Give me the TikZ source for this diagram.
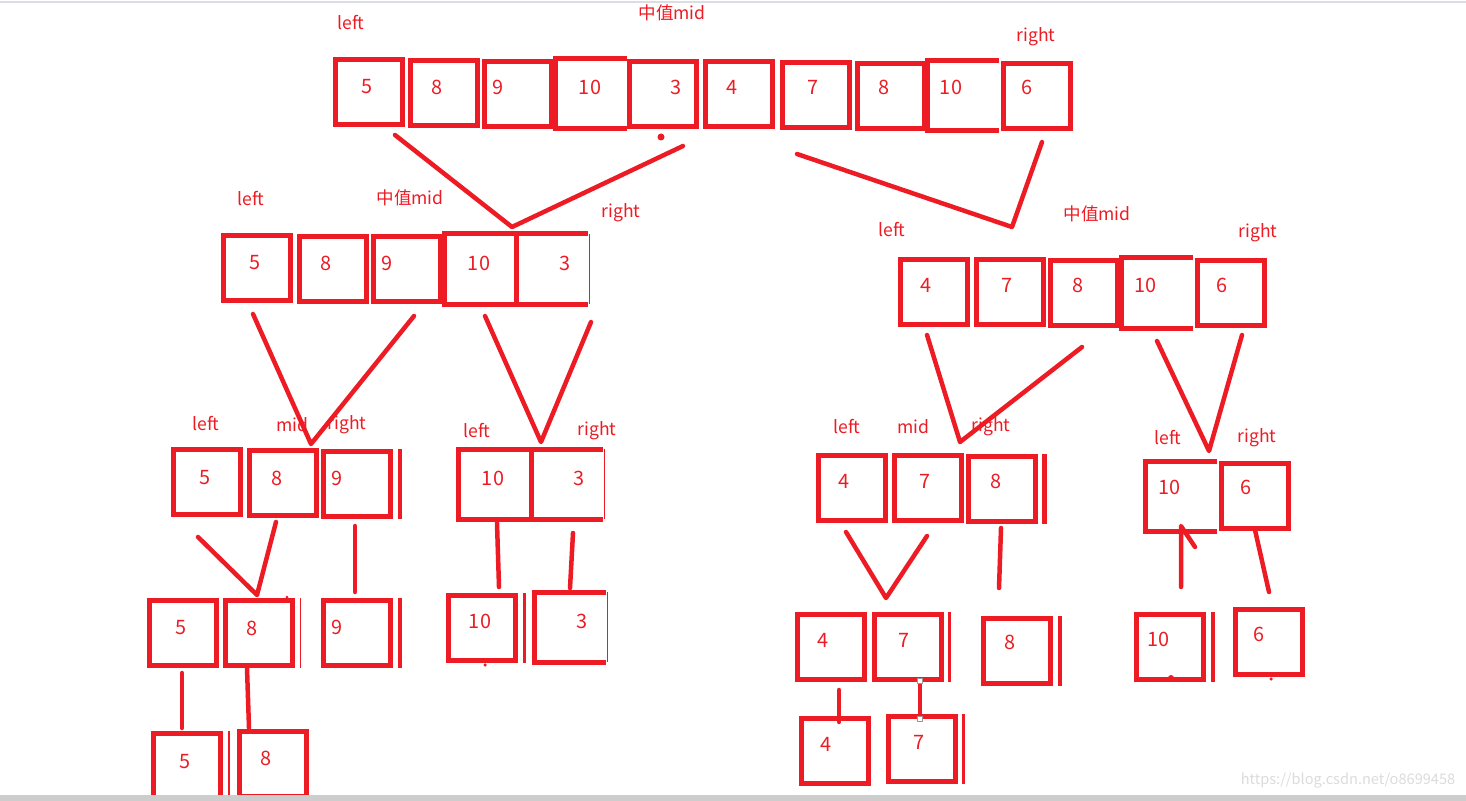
\documentclass[tikz,border=0pt]{standalone}
\usepackage{fontspec}
\setmainfont{Noto Sans CJK SC}
\definecolor{hongse}{HTML}{ED1C24}
\definecolor{huise}{HTML}{CDCDCD}
\definecolor{dingxian}{HTML}{DADDE2}
\begin{document}
\begin{tikzpicture}[x=0.2mm, y=-0.2mm,
		cell/.style={draw=hongse, line width=1mm, minimum width=13.4mm, minimum height=13mm, inner sep=0pt},
		kai/.style={cell, draw=none},
		num/.style={text=hongse, font=\fontsize{11.3}{13}\selectfont, inner sep=0pt},
		tag/.style={text=hongse, font=\fontsize{10}{12}\selectfont, inner sep=0pt},
		xian/.style={draw=hongse, line width=0.9mm, line cap=round, line join=round}]
		\useasboundingbox (0,0) rectangle (1466,801);
		% 顶部细线
		\draw[dingxian, line width=0.3mm] (0,2) -- (1466,2);

		% 闭合的格子：名字/中心x/中心y/值/数字x/数字y
		\foreach \n/\x/\y/\v/\tx/\ty in {a1/369/92/5/367/87, a2/444/93/8/437/87, a3/518/94/9/498/87,
				a5/663/94/3/676/87, a6/739/94/4/732/87, a7/816/95/7/813/87, a8/891/96/8/884/87,
				a10/1037/96/6/1027/87,
				b1/257/268/5/255/263, b2/333/269/8/326/263, b3/407/269/9/387/263,
				c1/934/292/4/926/285, c2/1010/292/7/1007/285, c3/1084/293/8/1078/285, c5/1231/293/6/1222/285,
				d1/207/482/5/205/478, d2/283/483/8/277/478, d3/357/484/9/337/478,
				f1/852/488/4/844/481, f2/928/488/7/925/481, f3/1002/489/8/996/481, g2/1255/496/6/1246/487,
				h1/183/633/5/181/628, h2/259/633/8/252/628, h3/357/633/9/337/627,
				i1/482/628/10/480/621, j1/831/647/4/823/640, j2/908/647/7/904/640, j3/1017/651/8/1010/642,
				k1/1170/647/10/1158/639, k2/1269/642/6/1259/634,
				l1/187/766/5/185/762, l2/273/764/8/266/758, m1/835/751/4/826/744, m2/922/749/7/919/742}
			{
				\node[cell] (\n) at (\x,\y) {};
				\node[num] (\n t) at (\tx,\ty) {\v};
			}
		% 右边开口的格子
		\foreach \n/\x/\y/\v/\tx/\ty in {a4/591/94/10/590/87, a9/963/96/10/951/87, b4/480/269/10/479/263,
				b5/552/269/3/565/263, c4/1157/293/10/1145/285, e1/494/484/10/493/478, e2/567/484/3/579/478,
				g1/1181/496/10/1169/487, i2/570/627/3/582/621}
			{
				\node[kai] (\n) at (\x,\y) {};
				\draw[hongse, line width=1mm] (\n.north east) -| (\n.south west) -- (\n.south east);
				\node[num] (\n t) at (\tx,\ty) {\v};
			}
		% 细的右边
		\foreach \n in {b5,e2,i2}
			\draw[hongse, line width=0.25mm] ([xshift=0.3mm]\n.north east) -- ([xshift=0.3mm]\n.south east);
		% 格子旁多出的竖条
		\foreach \n/\s/\w in {d3/1.3mm/0.8mm, f3/1.3mm/0.9mm, h3/1.3mm/0.8mm, j3/1.3mm/0.8mm, k1/1.3mm/0.8mm,
				h2/1.1mm/0.25mm, i1/1.2mm/0.6mm, j2/1.1mm/0.6mm, m2/1.1mm/0.6mm, l1/1.1mm/0.4mm}
			\draw[hongse, line width=\w] ([xshift=\s]\n.north east) -- ([xshift=\s]\n.south east);

		% left / mid / right 标注
		\foreach \n/\x/\y/\t in {t0l/351/23/left, t0m/672/13/中值mid, t0r/1036/37/right,
				t1l/251/199/left, t1m/410/198/中值mid, t1r/621/213/right,
				t2l/892/230/left, t2m/1097/214/中值mid, t2r/1258/233/right,
				t3l/206/424/left, t3m/292/425/mid, t3r/347/425/right,
				t4l/477/431/left, t4r/597/431/right,
				t5l/847/427/left, t5m/913/427/mid, t5r/991/427/right,
				t6l/1168/438/left, t6r/1257/438/right}
			\node[tag] (\n) at (\x,\y) {\t};

		% 连线的端点
		\foreach \n/\xy in {p1/{395,135}, v1/{512,227}, p2/{683,146}, p3/{797,154}, v2/{1012,227}, p4/{1042,142},
				p5/{253,314}, v3/{311,444}, p6/{414,316}, p7/{485,316}, v4/{541,442}, p8/{591,322},
				p9/{927,335}, v5/{960,442}, p10/{1082,347}, p11/{1157,341}, v6/{1209,451}, p12/{1242,335},
				p13/{198,537}, v7/{257,595}, p14/{276,522}, p15/{355,526}, q15/{355,592},
				p16/{497,523}, q16/{499,587}, p17/{573,533}, q17/{570,588},
				p18/{846,532}, v8/{886,598}, p19/{927,536}, p20/{1001,528}, q20/{999,588},
				p21/{1181,587}, q21/{1181,526}, r21/{1195,547}, p22/{1255,530}, q22/{1269,592},
				p23/{182,673}, q23/{182,728}, p24/{247,668}, q24/{249,728},
				p25/{839,690}, q25/{839,722}, p26/{920,681}, q26/{920,719}}
			\coordinate (\n) at (\xy);
		\foreach \a/\b/\c in {p1/v1/p2, p3/v2/p4, p5/v3/p6, p7/v4/p8, p9/v5/p10, p11/v6/p12,
				p13/v7/p14, p18/v8/p19, p21/q21/r21}
			\draw[xian] (\a) -- (\b) -- (\c);
		\foreach \a/\b in {p15/q15, p16/q16, p17/q17, p20/q20, p22/q22, p23/q23, p24/q24, p25/q25, p26/q26}
			\draw[xian] (\a) -- (\b);
		% 小点和选择框
		\foreach \d/\r in {{661,137}/0.7mm, {1171,678}/0.6mm, {287,597}/0.3mm, {485,665}/0.35mm, {1271,679}/0.35mm}
			\fill[hongse] (\d) circle (\r);
		\foreach \h in {p26,q26}
			\draw[gray!80, fill=white, line width=0.15mm] ([xshift=-0.45mm,yshift=-0.45mm]\h) rectangle ([xshift=0.45mm,yshift=0.45mm]\h);

		% 水印和底部灰条
		\node[text=gray!28, font=\fontsize{8.3}{10}\selectfont, inner sep=0pt] (shuiyin) at (1348,781) {https://blog.csdn.net/o8699458};
		\fill[huise] (0,795) rectangle (1466,801);
	\end{tikzpicture}
\end{document}
